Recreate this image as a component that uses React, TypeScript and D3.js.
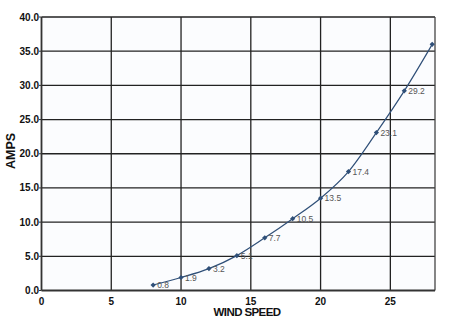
import React from "react";
import * as d3 from "d3";

const windSpeed = [8, 10, 12, 14, 16, 18, 20, 22, 24, 26, 28];
const amps = [0.8, 1.9, 3.2, 5.1, 7.7, 10.5, 13.5, 17.4, 23.1, 29.2, 36.0];
const pointLabels = ["0.8", "1.9", "3.2", "5.1", "7.7", "10.5", "13.5", "17.4", "23.1", "29.2", ""];
const xTicks = [0, 5, 10, 15, 20, 25];
const yTicks = [0, 5, 10, 15, 20, 25, 30, 35, 40];

export default function App() {
  const W = 450, H = 320;
  const left = 41.5, right = 435, top = 17, bottom = 290.5;
  const x = d3.scaleLinear().domain([0, 28.2]).range([left, right]);
  const y = d3.scaleLinear().domain([0, 40]).range([bottom, top]);
  const line = d3
    .line<number>()
    .x((_, i) => x(windSpeed[i]))
    .y((d) => y(d))
    .curve(d3.curveMonotoneX);
  const font = "'Liberation Sans', Arial, sans-serif";
  const lineColor = "#2f4f78";
  return (
    <svg width={W} height={H} style={{ position: "absolute", left: 0, top: 0, background: "#fff" }}>
      <rect x={0} y={0} width={W} height={H} fill="#fff" />
      <rect x={left} y={top} width={right - left} height={bottom - top} fill="#fbfcfe" />
      {xTicks.filter((t) => t > 0).map((t) => (
        <line key={"gx" + t} x1={x(t)} x2={x(t)} y1={top} y2={bottom} stroke="#222" strokeWidth={1.3} />
      ))}
      {yTicks.filter((t) => t > 0).map((t) => (
        <line key={"gy" + t} x1={left} x2={right} y1={y(t)} y2={y(t)} stroke="#222" strokeWidth={1.3} />
      ))}
      <line x1={right} x2={right} y1={top} y2={bottom} stroke="#444" strokeWidth={1.3} />
      <line x1={left} x2={left} y1={top} y2={bottom} stroke="#333" strokeWidth={1.8} />
      <line x1={left} x2={right} y1={bottom} y2={bottom} stroke="#333" strokeWidth={1.8} />
      {yTicks.map((t) => (
        <g key={"yt" + t}>
          <line x1={left - 2.5} x2={left} y1={y(t)} y2={y(t)} stroke="#333" strokeWidth={1} />
          <text x={left - 2.5} y={y(t) + 3.5} textAnchor="end" fontFamily={font} fontSize={10} fontWeight={600} fill="#111">
            {t.toFixed(1)}
          </text>
        </g>
      ))}
      {xTicks.map((t) => (
        <text key={"xt" + t} x={x(t)} y={bottom + 14} textAnchor="middle" fontFamily={font} fontSize={10} fontWeight={600} fill="#111">
          {t}
        </text>
      ))}
      <text x={247} y={316} textAnchor="middle" fontFamily={font} fontSize={11.5} fontWeight={700} fill="#111" letterSpacing={-0.6}>
        WIND SPEED
      </text>
      <text transform="translate(15,151) rotate(-90)" textAnchor="middle" fontFamily={font} fontSize={12.5} fontWeight={700} fill="#111">
        AMPS
      </text>
      <path d={line(amps) || ""} fill="none" stroke={lineColor} strokeWidth={1.2} />
      {amps.map((v, i) => {
        const cx = x(windSpeed[i]);
        const cy = y(v);
        return (
          <g key={"p" + i}>
            <path d={`M${cx},${cy - 2.6}L${cx + 2.6},${cy}L${cx},${cy + 2.6}L${cx - 2.6},${cy}Z`} fill={lineColor} />
            {pointLabels[i] && (
              <text x={cx + 4} y={cy + 3} fontFamily={font} fontSize={8.5} fill="#555">
                {pointLabels[i]}
              </text>
            )}
          </g>
        );
      })}
    </svg>
  );
}
